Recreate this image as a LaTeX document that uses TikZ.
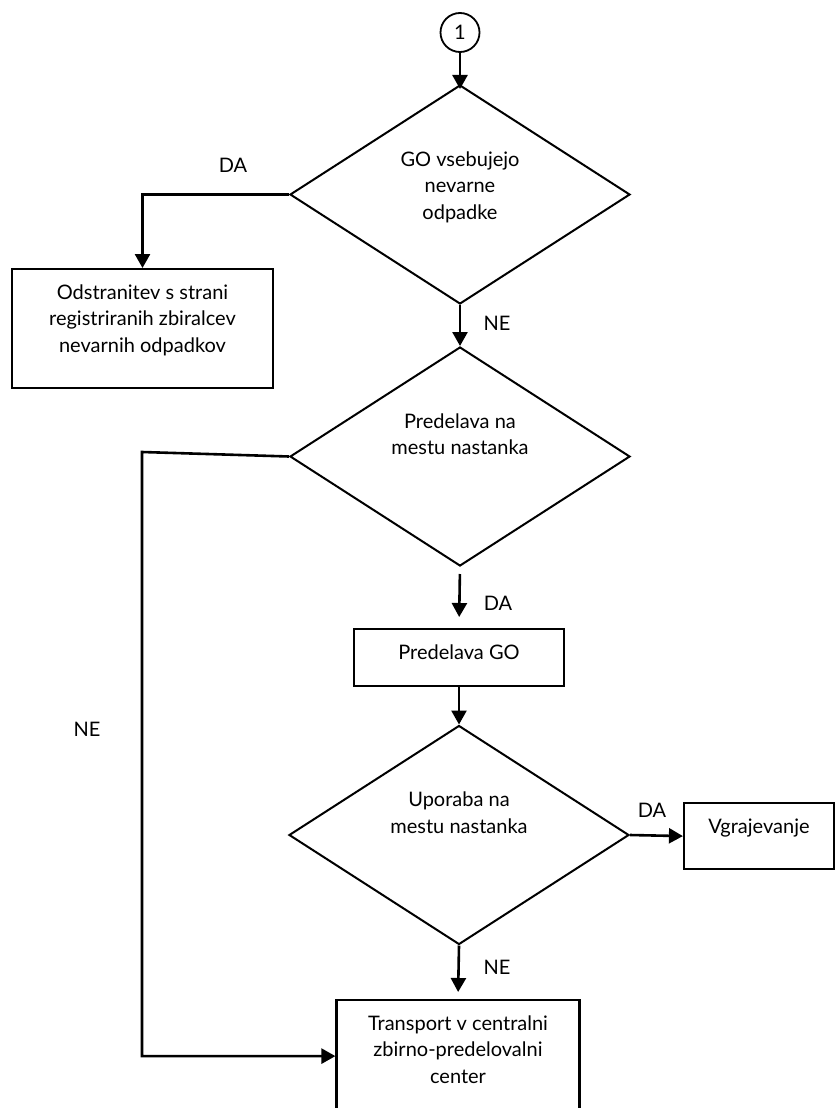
\documentclass[tikz,border=0pt]{standalone}
\usepackage{fontspec}
\setmainfont{Lato}
\usetikzlibrary{arrows.meta,positioning,shapes.geometric}

\begin{document}
\begin{tikzpicture}[x=1pt,y=-1pt,>={Triangle[length=14pt,width=15pt]},
font=\fontsize{20}{26.5}\selectfont,
roundnode/.style={circle, draw=black, line width=1.8pt, minimum size=39pt, inner sep=0pt},
decnode/.style={diamond, draw=black, line width=2pt, aspect=1.56, minimum width=340pt, minimum height=219pt, inner sep=0pt, align=center},
boxnode/.style={rectangle, draw=black, line width=2.2pt, inner sep=0pt, align=center, anchor=north},
flow/.style={->, line width=2.6pt},
]
\clip (0,0) rectangle (838,1108);

\node[roundnode] (start) at (460,32.5) {1};
\node[decnode, text height=70pt, text depth=21pt] (q1) at (460,194.5) {GO vsebujejo\\nevarne\\odpadke};
\node[boxnode, minimum width=261pt, text height=83pt, text depth=36pt] (remove) at (142.5,268) {Odstranitev s strani\\registriranih zbiralcev\\nevarnih odpadkov};
\node[decnode, text height=40pt, text depth=44pt] (q2) at (460,456.5) {Predelava na\\mestu nastanka};
\node[boxnode, minimum width=210pt, text height=30pt, text depth=27pt] (process) at (459,628) {Predelava GO};
\node[decnode, text height=40pt, text depth=44pt] (q3) at (459,835) {Uporaba na\\mestu nastanka};
\node[boxnode, minimum width=150pt, text height=30pt, text depth=36pt] (install) at (759,802) {Vgrajevanje};
\node[boxnode, minimum width=243pt, text height=83pt, text depth=29pt] (transport) at (458,999) {Transport v centralni\\zbirno-predelovalni\\center};

\coordinate (turn) at (142,452);

\draw[flow, shorten >=-5pt] (start.south) -- (q1.north);
\draw[flow] (q1.west) -| (remove.north);
\draw[flow] (q1.south) -- (q2.north);
\draw[flow, shorten <=7pt, shorten >=11pt] (q2.south) -- (process.north);
\draw[flow] (process.south) -- (q3.north);
\draw[flow] (q3.east) -- (install.west);
\draw[flow, shorten >=7pt] (q3.south) -- (transport.north);
\draw[flow] (q2.west) -- (turn) |- (transport.west);

% Label
\node (da1) at (233,165) {DA};
\node (ne1) at (497,323) {NE};
\node (ne2) at (87,729) {NE};
\node (da2) at (498,603) {DA};
\node (da3) at (652,810) {DA};
\node (ne3) at (497,967) {NE};

\end{tikzpicture}
\end{document}
